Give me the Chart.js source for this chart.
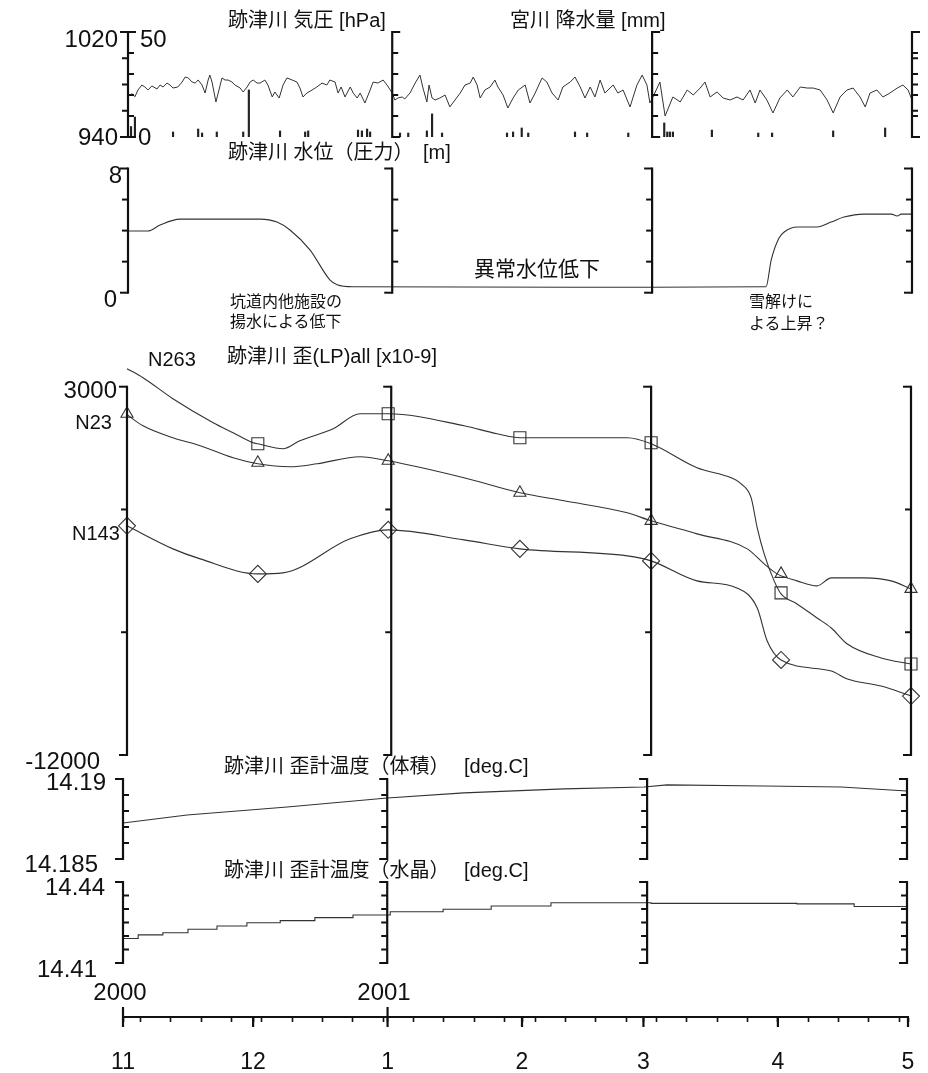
<!DOCTYPE html>
<html><head><meta charset="utf-8">
<script src="https://cdn.jsdelivr.net/npm/chart.js@4.4.0/dist/chart.umd.min.js"></script>
<style>
html,body{margin:0;padding:0;background:#fff;}
#wrap{position:relative;width:928px;height:1073px;overflow:hidden;background:#fff;}
canvas{position:absolute;left:0;top:0;}
.t{position:absolute;white-space:nowrap;color:#111;font-family:"Liberation Sans","Noto Sans CJK JP",sans-serif;line-height:1;transform:translateY(-50%);z-index:5;}
.r{transform:translate(-100%,-50%);}
.c{transform:translate(-50%,-50%);}
.n{font-size:24px;}
.h{font-size:20px;}
.a{font-size:16px;font-family:"Noto Sans CJK JP",sans-serif;}
</style></head>
<body>
<div id="wrap">
<canvas id="c1" width="928" height="1073"></canvas>
<canvas id="c2" width="928" height="1073"></canvas>
<canvas id="c3" width="928" height="1073"></canvas>
<canvas id="c4" width="928" height="1073"></canvas>
<canvas id="c5" width="928" height="1073"></canvas>
<canvas id="c6" width="928" height="1073"></canvas>

<div class="t h" style="left:228px;top:20px">跡津川 気圧 [hPa]</div>
<div class="t h" style="left:510px;top:20px">宮川 降水量 [mm]</div>
<div class="t n r" style="left:118px;top:39px">1020</div>
<div class="t n" style="left:140px;top:39px">50</div>
<div class="t n r" style="left:118px;top:137px">940</div>
<div class="t n" style="left:138px;top:137px">0</div>

<div class="t h" style="left:228px;top:152px">跡津川 水位（圧力）</div>
<div class="t h" style="left:423px;top:152px">[m]</div>
<div class="t n r" style="left:122px;top:175px">8</div>
<div class="t n r" style="left:117px;top:299px">0</div>
<div class="t a" style="left:230px;top:300px">坑道内他施設の</div>
<div class="t a" style="left:230px;top:320px">揚水による低下</div>
<div class="t a" style="left:474px;top:267px;font-size:21px">異常水位低下</div>
<div class="t a" style="left:749px;top:300px">雪解けに</div>
<div class="t a" style="left:749px;top:322px">よる上昇？</div>

<div class="t h" style="left:227px;top:356px">跡津川 歪(LP)all [x10-9]</div>
<div class="t h" style="left:148px;top:359px">N263</div>
<div class="t n r" style="left:117px;top:390px">3000</div>
<div class="t h r" style="left:112px;top:422px">N23</div>
<div class="t h" style="left:72px;top:533px">N143</div>
<div class="t n r" style="left:100px;top:761px">-12000</div>

<div class="t h" style="left:224px;top:766px">跡津川 歪計温度（体積）</div>
<div class="t h" style="left:464px;top:766px">[deg.C]</div>
<div class="t n r" style="left:106px;top:782px">14.19</div>
<div class="t n r" style="left:98px;top:864px">14.185</div>

<div class="t h" style="left:224px;top:870px">跡津川 歪計温度（水晶）</div>
<div class="t h" style="left:464px;top:870px">[deg.C]</div>
<div class="t n r" style="left:105px;top:887px">14.44</div>
<div class="t n r" style="left:97px;top:969px">14.41</div>

<div class="t n c" style="left:120px;top:992px">2000</div>
<div class="t n c" style="left:384px;top:992px">2001</div>
</div>

<script>
// x values: days since 2000-11-01
const pressureDays = [0.85,1.6,2.3,3.2,3.9,4.6,5.5,6.7,7.4,8.1,
9.0,9.7,10.4,11.5,12.5,13.2,13.9,14.8,15.5,16.2,
17.1,17.8,18.5,18.9,19.4,20.3,21.0,21.7,22.4,23.1,
24.0,24.7,25.9,26.6,27.5,28.2,28.9,29.8,30.5,31.6,
32.3,33.3,33.9,34.9,35.8,36.7,37.9,39.0,39.7,40.4,
41.3,42.5,43.6,44.8,45.9,46.6,47.8,48.5,49.2,50.1,
51.3,52.0,52.9,53.6,54.7,55.9,56.6,57.7,58.9,59.8,
61.0,61.6,62.3,63.3,63.9,65.1,66.3,67.4,68.1,69.0,
69.5,70.2,70.9,72.0,73.2,74.3,75.5,76.7,77.8,79.0,
79.7,80.6,81.3,82.4,83.6,84.7,85.4,86.6,87.7,88.9,
90.1,91.7,92.8,94.0,95.6,96.7,97.9,99.3,100.4,102.1,
103.2,104.4,105.5,106.7,107.8,109.0,110.1,112.0,113.1,114.3,
115.9,117.5,118.7,119.8,120.5,121.2,122.8,124.0,125.8,127.5,
129.1,130.5,132.1,133.2,134.4,136.0,137.4,139.0,140.6,142.0,
143.6,144.8,145.9,147.5,148.9,150.5,152.2,153.5,155.2,156.8,
158.2,159.8,161.4,162.8,164.4,166.0,167.4,169.0,170.2,171.3,
172.9,174.3,175.9,177.6,178.9,180.1,181.0];
const pressureHpa = [973.3,970.7,975.8,979.6,978.1,975.8,978.9,976.6,979.6,978.1,
981.1,979.6,977.3,978.1,981.9,985.7,985.0,981.9,981.1,983.4,
979.6,973.5,983.4,987.2,981.9,966.7,975.8,985.0,983.4,983.4,
981.9,979.6,977.3,974.3,978.1,981.9,983.4,981.1,981.1,983.4,
979.6,970.5,974.3,969.7,979.6,985.0,983.4,981.9,977.3,970.5,
973.5,975.8,978.1,981.1,979.6,983.4,981.9,973.5,978.1,970.5,
978.1,973.5,969.7,973.5,965.9,975.8,981.9,981.1,983.4,979.6,
973.5,968.2,969.7,970.5,969.0,973.5,981.1,987.2,977.3,966.7,
979.6,969.7,968.2,969.7,972.0,962.9,968.2,973.5,979.6,981.1,
985.7,979.6,969.7,975.8,978.1,983.4,978.1,972.0,962.1,969.7,
975.8,979.6,965.9,973.5,985.0,981.9,973.5,968.2,978.1,981.9,
985.7,978.1,969.7,978.1,970.5,983.4,973.5,979.6,973.5,975.8,
962.9,979.6,987.2,979.6,965.9,970.5,981.9,956.0,970.5,966.7,
975.8,972.0,977.3,981.9,970.5,974.3,969.7,968.2,970.5,968.2,
975.8,965.9,975.8,968.2,958.3,969.7,975.8,970.5,978.1,977.3,
977.3,975.8,968.2,958.3,970.5,975.8,977.3,970.5,962.9,973.5,
975.8,970.5,973.5,977.3,979.6,975.8,968.2];

const precipDays = [0.7,1.6,10.4,16.2,17.1,20.5,26.6,27.9,35.1,40.9,41.6,53.1,54.0,55.2,55.9,62.8,64.7,69.0,70.2,72.5,87.5,88.9,90.9,92.4,103.2,106.0,115.5,123.8,124.5,125.1,125.8,134.8,145.5,148.7,162.8,174.8];
const precipMm = [5,9.5,2.4,3.8,1.9,2.4,2.4,22.4,2.9,2.4,2.9,3.3,2.9,3.8,2.4,1.9,1.9,2.9,11.0,1.9,1.9,2.4,4.3,1.9,2.4,1.9,1.9,6.7,2.4,2.4,2.4,3.3,1.9,1.9,2.9,4.3];

const levelDays = [0,4.6,7.4,12.0,30.5,34.4,37.4,42.0,46.6,48.3,51.9,120.5,147.3,148.5,150.3,151.5,154.5,159.1,162.3,165.3,169.9,176.2,177.6,178.5,181];
const levelM = [3.97,3.97,4.36,4.74,4.74,4.55,4.04,2.76,0.83,0.51,0.38,0.35,0.38,2.12,3.53,3.91,4.23,4.23,4.55,4.87,5.06,5.06,4.94,5.06,5.06];

const n263Days = [0,3.7,10.6,19.9,24.5,29.1,30.2,36.0,39.9,47.6,53.8,60.3,77.8,85.4,90.7,100.9,115.5,121.0,131.6,139.5,141.8,144.1,145.5,147.1,149.4,151.0,154.7,159.3,162.6,166.3,174.1,181];
const n263Vals = [3734,3367,2511,1532,1125,717,676,472,798,1288,1899,1899,1410,1084,921,921,921,676,-302,-710,-955,-1526,-2749,-3809,-4909,-5439,-5847,-6418,-6826,-7478,-8049,-8293];
const n23Days = [0,3.7,10.6,16.9,24.5,30.2,37.6,43.9,53.8,60.3,77.8,90.7,100.9,115.5,121.0,131.6,143.2,147.1,150.1,154.7,159.3,162.6,170.2,176.4,181];
const n23Vals = [1858,1410,921,595,105,-139,-262,-139,146,-17,-710,-1322,-1648,-2137,-2463,-2993,-3605,-4216,-4624,-4909,-5113,-4787,-4787,-4909,-5236];
const n143Days = [0,10.6,16.9,30.2,36.0,51.5,60.3,77.8,90.7,115.5,121.0,131.6,140.8,145.5,147.8,151.0,162.6,166.3,174.1,181];
const n143Vals = [-2667,-3605,-4012,-4624,-4583,-3197,-2830,-3238,-3605,-3890,-4094,-4909,-5195,-6010,-7356,-8130,-8579,-8905,-9190,-9598];
const markDays = [0,30.2,60.3,90.7,121.0,151.0,181];
const n263Marks = [3775,676,1899,921,717,-5398,-8293];
const n23Marks = [1899,-98,-17,-1322,-2463,-4624,-5236];
const n143Marks = [-2667,-4624,-2830,-3605,-4094,-8130,-9598];

const tempVolDays = [0,14.8,37.9,61.0,78.7,101.8,120.3,125.6,148.0,165.8,181];
const tempVolVals = [14.18725,14.18775,14.18825,14.18881,14.18913,14.18938,14.1895,14.18963,14.18956,14.1895,14.18925];
const tempQzDays = [0,3.5,9.2,15.0,21.7,28.6,36.3,44.3,53.1,61.7,73.9,85.0,98.8,121.9,155.6,168.8,170.4,181];
const tempQzVals = [14.4179,14.4191,14.4204,14.4212,14.4225,14.4237,14.4249,14.4257,14.4268,14.4278,14.4290,14.4299,14.4311,14.4323,14.4321,14.4319,14.4309,14.4309];

const pressureTicks = [940,960,980,1000,1020];
const precipTicks = [0,10,20,30,40,50];
const levelTicks = [0,2,4,6,8];
const strainTicks = [-12000,-7000,-2000,3000];
const tempVolTicks = [14.185,14.186,14.187,14.188,14.189,14.19];
const tempQzTicks = [14.41,14.415,14.42,14.425,14.43,14.435,14.44];
const monthStartDays = [0,30,61,92,120,151,181];
const monthLabels = ['11','12','1','2','3','4','5'];
const weekTickDays = [4,11,18,25,32,39,46,53,60,67,74,81,88,95,102,109,116,123,130,137,144,158,165,172,179];
const panelDays = [0,61,121,181];

const INK = '#111';
const LINE = '#333';
const FONT = '"Liberation Sans","Noto Sans CJK JP",sans-serif';

function pts(xs, ys){ return xs.map((x,i)=>({x:x, y:ys[i]})); }

function makeBrackets(axes){
  return {
    id:'brackets',
    afterDatasetsDraw(chart){
      const ctx = chart.ctx, xs = chart.scales.x, area = chart.chartArea;
      ctx.save();
      ctx.strokeStyle = INK;
      axes.forEach(ax=>{
        const px = xs.getPixelForValue(ax.at);
        ctx.lineWidth = 2.2;
        ctx.beginPath(); ctx.moveTo(px, area.top-1); ctx.lineTo(px, area.bottom+1); ctx.stroke();
        ax.groups.forEach(g=>{
          const sc = chart.scales[g.scale];
          g.values.forEach((v,i)=>{
            const py = sc.getPixelForValue(v);
            const isEnd = (i===0 || i===g.values.length-1);
            const side = isEnd && g.endSide!==undefined ? g.endSide : g.side;
            const len = isEnd ? 8 : 6;
            ctx.lineWidth = 2;
            ctx.beginPath();
            if (side===0){ ctx.moveTo(px-len, py); ctx.lineTo(px+len, py); }
            else { ctx.moveTo(px, py); ctx.lineTo(px+side*len, py); }
            ctx.stroke();
          });
        });
      });
      ctx.restore();
    }
  };
}

function panel(id, pad, yScales, datasets, axes){
  const scales = { x:{type:'linear', min:0, max:181, display:false, offset:false, grid:{offset:false}} };
  Object.keys(yScales).forEach(k=>{ scales[k] = Object.assign({type:'linear', display:false}, yScales[k]); });
  return new Chart(document.getElementById(id), {
    type:'line',
    data:{datasets:datasets},
    options:{
      responsive:false, animation:false, devicePixelRatio:1, events:[],
      layout:{padding:pad},
      plugins:{legend:{display:false}, tooltip:{enabled:false}},
      scales:scales
    },
    plugins:[makeBrackets(axes)]
  });
}

function lineDs(xs, ys, extra){
  return Object.assign({
    type:'line', data:pts(xs,ys), borderColor:LINE, borderWidth:1.1,
    pointRadius:0, tension:0, fill:false, clip:false
  }, extra||{});
}
function markDs(xs, ys, style, r){
  return {
    type:'line', data:pts(xs,ys), showLine:false, clip:false,
    pointStyle:style, pointRadius:r, pointBorderColor:LINE,
    pointBackgroundColor:'rgba(255,255,255,0)', pointBorderWidth:1.1
  };
}

// Panel 1: pressure + precipitation
panel('c1', {left:128, right:16, top:32, bottom:936},
  { y:{min:940, max:1020}, y2:{min:0, max:50} },
  [
    lineDs(pressureDays, pressureHpa, {yAxisID:'y', clip:true, borderWidth:1}),
    { type:'bar', data:pts(precipDays, precipMm), yAxisID:'y2', backgroundColor:'#222', barThickness:1.5, grouped:false }
  ],
  [
    {at:0, groups:[{scale:'y', values:pressureTicks, side:-1, endSide:0},{scale:'y2', values:precipTicks, side:1, endSide:0}]},
    {at:61, groups:[{scale:'y2', values:precipTicks, side:1}]},
    {at:121, groups:[{scale:'y2', values:precipTicks, side:1}]},
    {at:181, groups:[{scale:'y', values:pressureTicks, side:1},{scale:'y2', values:precipTicks, side:1}]}
  ]);

// Panel 2: water level
panel('c2', {left:128, right:16, top:168.5, bottom:780.3},
  { y:{min:0, max:8} },
  [ lineDs(levelDays, levelM, {cubicInterpolationMode:'monotone'}) ],
  [
    {at:0, groups:[{scale:'y', values:levelTicks, side:-1}]},
    {at:61, groups:[{scale:'y', values:levelTicks, side:1, endSide:-1}]},
    {at:121, groups:[{scale:'y', values:levelTicks, side:-1}]},
    {at:181, groups:[{scale:'y', values:levelTicks, side:-1}]}
  ]);

// Panel 3: strain
panel('c3', {left:127, right:17, top:386.7, bottom:318},
  { y:{min:-12000, max:3000} },
  [
    lineDs(n263Days, n263Vals, {cubicInterpolationMode:'monotone'}),
    lineDs(n23Days, n23Vals, {cubicInterpolationMode:'monotone'}),
    lineDs(n143Days, n143Vals, {cubicInterpolationMode:'monotone'}),
    markDs(markDays, n263Marks, 'rect', 8.5),
    markDs(markDays, n23Marks, 'triangle', 7),
    markDs(markDays, n143Marks, 'rectRot', 8.5)
  ],
  panelDays.map(d=>({at:d, groups:[{scale:'y', values:strainTicks, side:-1}]})));

// Panel 4: strainmeter temperature (volume)
panel('c4', {left:123, right:21, top:779, bottom:214},
  { y:{min:14.185, max:14.19} },
  [ lineDs(tempVolDays, tempVolVals) ],
  [
    {at:0, groups:[{scale:'y', values:tempVolTicks, side:1, endSide:-1}]},
    {at:61, groups:[{scale:'y', values:tempVolTicks, side:-1}]},
    {at:121, groups:[{scale:'y', values:tempVolTicks, side:-1}]},
    {at:181, groups:[{scale:'y', values:tempVolTicks, side:-1}]}
  ]);

// Panel 5: strainmeter temperature (quartz)
panel('c5', {left:123, right:21, top:882, bottom:110},
  { y:{min:14.41, max:14.44} },
  [ lineDs(tempQzDays, tempQzVals, {stepped:'after'}) ],
  [
    {at:0, groups:[{scale:'y', values:tempQzTicks, side:1, endSide:-1}]},
    {at:61, groups:[{scale:'y', values:tempQzTicks, side:-1}]},
    {at:121, groups:[{scale:'y', values:tempQzTicks, side:-1}]},
    {at:181, groups:[{scale:'y', values:tempQzTicks, side:-1}]}
  ]);

// Bottom time axis
const axisTickDays = monthStartDays.concat(weekTickDays).sort((a,b)=>a-b);
const majorTicks = {
  id:'majorTicks',
  afterDraw(chart){
    const ctx = chart.ctx, xs = chart.scales.x, yb = chart.chartArea.bottom;
    ctx.save(); ctx.strokeStyle = INK; ctx.lineWidth = 2.2;
    monthStartDays.forEach(d=>{
      const px = xs.getPixelForValue(d);
      const up = (d===0 || d===61) ? 10 : 0;
      ctx.beginPath(); ctx.moveTo(px, yb-up); ctx.lineTo(px, yb+10); ctx.stroke();
    });
    ctx.restore();
  }
};
new Chart(document.getElementById('c6'), {
  type:'line',
  data:{datasets:[]},
  options:{
    responsive:false, animation:false, devicePixelRatio:1, events:[],
    layout:{padding:{left:123, right:20, top:990, bottom:0}},
    plugins:{legend:{display:false}, tooltip:{enabled:false}},
    scales:{
      x:{type:'linear', min:0, max:181, position:'bottom', offset:false,
        afterBuildTicks:(s)=>{ s.ticks = axisTickDays.map(v=>({value:v})); },
        afterFit:(s)=>{ s.height = 56; },
        ticks:{autoSkip:false, maxRotation:0, padding:2, color:INK,
          font:{family:FONT, size:23, lineHeight:3.35},
          callback:(v)=>{ const i = monthStartDays.indexOf(v); return i>=0 ? monthLabels[i] : ''; }},
        grid:{drawOnChartArea:false, drawTicks:true, tickLength:5, tickWidth:1.6, tickColor:INK},
        border:{display:true, color:INK, width:2}
      },
      y:{display:false, min:0, max:1}
    }
  },
  plugins:[majorTicks]
});
</script>
</body></html>
